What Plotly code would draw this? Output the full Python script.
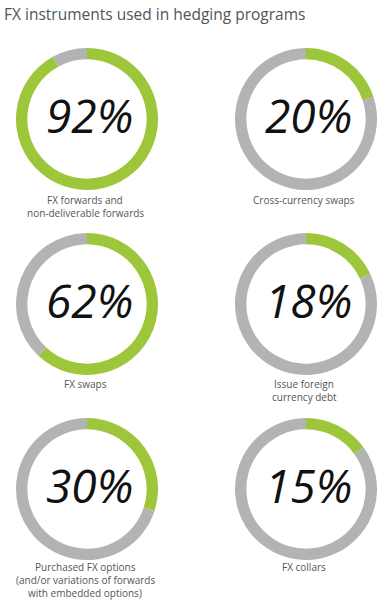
import plotly.graph_objects as go

W, H = 385, 604

title = "FX instruments used in hedging programs"
categories = [
    "FX forwards and<br>non-deliverable forwards",
    "Cross-currency swaps",
    "FX swaps",
    "Issue foreign<br>currency debt",
    "Purchased FX options<br>(and/or variations of forwards<br>with embedded options)",
    "FX collars",
]
shares = [92, 20, 62, 18, 30, 15]

GREEN = "#9DC63B"
GRAY = "#B3B3B3"

col_x = [87, 306]
row_y = [119, 304, 489]
R = 71
label_first = [200, 384, 567]
LINE = 13

fig = go.Figure()
annotations = []

for i, (cat, p) in enumerate(zip(categories, shares)):
    r, c = divmod(i, 2)
    cx, cy = col_x[c], row_y[r]
    fig.add_trace(go.Pie(
        values=[p, 100 - p],
        marker=dict(colors=[GREEN, GRAY], line=dict(width=0)),
        hole=0.84,
        sort=False,
        direction="clockwise",
        rotation=0,
        textinfo="none",
        hoverinfo="skip",
        showlegend=False,
        domain=dict(x=[(cx - R) / W, (cx + R) / W],
                    y=[1 - (cy + R) / H, 1 - (cy - R) / H]),
    ))
    annotations.append(dict(
        text=f"{p}%", x=(cx + 2) / W, y=1 - (cy - 4) / H,
        xref="paper", yref="paper", showarrow=False,
        xanchor="center", yanchor="middle",
        font=dict(family="Open Sans", size=46, color="#111111", style="italic"),
    ))
    for j, line in enumerate(cat.split("<br>")):
        annotations.append(dict(
            text=line, x=(cx - 2) / W, y=1 - (label_first[r] + j * LINE) / H,
            xref="paper", yref="paper", showarrow=False,
            xanchor="center", yanchor="middle", borderpad=0,
            font=dict(family="Open Sans", size=10, color="#555555"),
        ))

annotations.append(dict(
    text=title, x=2 / W, y=1 - 1 / H, xref="paper", yref="paper",
    showarrow=False, xanchor="left", yanchor="top",
    font=dict(family="Open Sans", size=15.5, color="#50555a"),
))

fig.update_layout(
    width=W, height=H,
    margin=dict(l=0, r=0, t=0, b=0),
    paper_bgcolor="white", plot_bgcolor="white",
    annotations=annotations,
)

fig.write_html("out.html")
